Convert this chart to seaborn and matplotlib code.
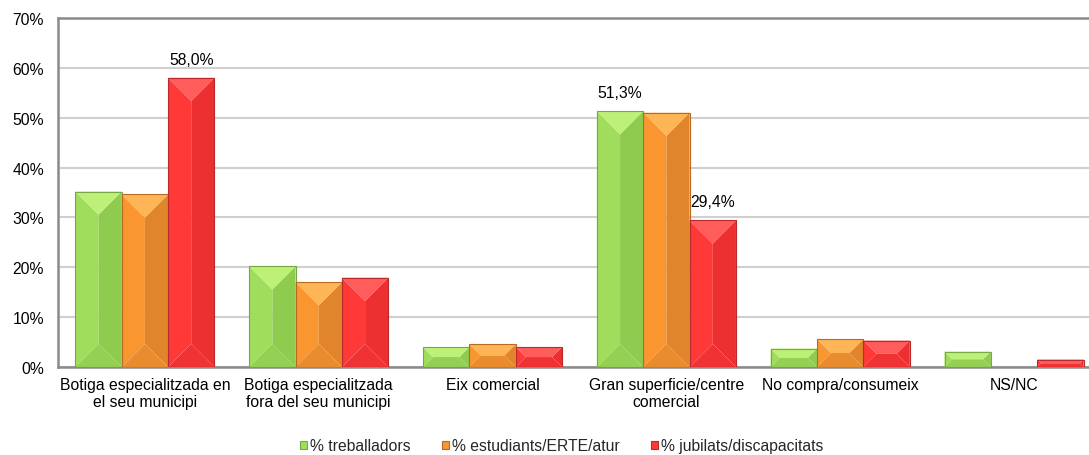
import matplotlib
matplotlib.use("Agg")
import matplotlib.pyplot as plt
from matplotlib.patches import Polygon, Rectangle
from matplotlib.ticker import FuncFormatter
import pandas as pd
import seaborn as sns

# ---- data -------------------------------------------------------------
categories = [
    "Botiga especialitzada en\nel seu municipi",
    "Botiga especialitzada\nfora del seu municipi",
    "Eix comercial",
    "Gran superficie/centre\ncomercial",
    "No compra/consumeix",
    "NS/NC",
]
series_names = ["% treballadors", "% estudiants/ERTE/atur", "% jubilats/discapacitats"]
treballadors = [35.2, 20.2, 4.0, 51.3, 3.7, 3.1]
estudiants = [34.6, 17.0, 4.6, 51.0, 5.6, 0.0]
jubilats = [58.0, 17.9, 4.0, 29.4, 5.3, 1.5]
y_ticks = [0, 10, 20, 30, 40, 50, 60, 70]

# bars that carry a value label: (series index, category index)
labelled_bars = [(2, 0), (0, 3), (2, 3)]

# ---- styling ----------------------------------------------------------
# face colours for the bevelled bars: base/left, top, right, bottom, outline
bevel_colors = [
    dict(left="#a0dd5c", top="#bcf076", right="#8fcb4f", bottom="#94d053", edge="#78a845"),
    dict(left="#f9962f", top="#fdb556", right="#e0852b", bottom="#e98c2d", edge="#b96a22"),
    dict(left="#ff3838", top="#ff5c5c", right="#ec2f31", bottom="#f03234", edge="#b92a2a"),
]

sns.set_theme(style="white")
plt.rcParams["font.family"] = ["Liberation Sans", "DejaVu Sans"]
FS = 11.3

df = pd.DataFrame({
    "categoria": categories * 3,
    "serie": [s for s in series_names for _ in categories],
    "valor": treballadors + estudiants + jubilats,
})

W, H = 1089, 456
fig = plt.figure(figsize=(W / 100, H / 100), dpi=100)
left_px, right_px, top_px, bottom_px = 58, 1101, 19, 368
ax = fig.add_axes([left_px / W, 1 - bottom_px / H,
                   (right_px - left_px) / W, (bottom_px - top_px) / H])

sns.barplot(
    data=df, x="categoria", y="valor", hue="serie",
    order=categories, hue_order=series_names,
    palette=[c["left"] for c in bevel_colors],
    width=0.8, gap=0, saturation=1, legend=False, ax=ax,
)

ax.set_xlim(-0.5, len(categories) - 0.5)
ax.set_ylim(0, 70)
ax.set_yticks(y_ticks)
ax.yaxis.set_major_formatter(FuncFormatter(lambda v, _: f"{v:.0f}%"))
ax.set_xlabel("")
ax.set_ylabel("")
ax.tick_params(axis="both", length=0, labelsize=FS, colors="#000000")
ax.tick_params(axis="y", pad=10)
ax.tick_params(axis="x", pad=7)
for lab in ax.get_xticklabels():
    lab.set_multialignment("center")

ax.grid(axis="y", color="#d0d0d0", linewidth=1.5, zorder=0)
ax.set_axisbelow(True)
for side in ["left", "top", "bottom"]:
    ax.spines[side].set_visible(True)
    ax.spines[side].set_color("#8a8a8a")
    ax.spines[side].set_linewidth(1.8)
ax.spines["right"].set_visible(False)

# ---- bevel effect on every bar ---------------------------------------
px_x = (right_px - left_px) / (ax.get_xlim()[1] - ax.get_xlim()[0])
px_y = (bottom_px - top_px) / (ax.get_ylim()[1] - ax.get_ylim()[0])

for s_idx, container in enumerate(ax.containers):
    cols = bevel_colors[s_idx]
    for bar in container:
        x0 = bar.get_x()
        w = bar.get_width()
        h = bar.get_height()
        if h <= 0:
            bar.set_visible(False)
            continue
        x1 = x0 + w
        y0, y1 = 0.0, h
        b = min(w * px_x, h * px_y) / 2.0
        dx, dy = b / px_x, b / px_y
        faces = [
            ([(x0, y0), (x0, y1), (x0 + dx, y1 - dy), (x0 + dx, y0 + dy)], cols["left"]),
            ([(x1 - dx, y0 + dy), (x1 - dx, y1 - dy), (x1, y1), (x1, y0)], cols["right"]),
            ([(x0 + dx, y0 + dy), (x0 + dx, y1 - dy), (x1 - dx, y1 - dy), (x1 - dx, y0 + dy)], cols["left"]),
            ([(x0, y1), (x1, y1), (x1 - dx, y1 - dy), (x0 + dx, y1 - dy)], cols["top"]),
            ([(x0, y0), (x1, y0), (x1 - dx, y0 + dy), (x0 + dx, y0 + dy)], cols["bottom"]),
        ]
        for pts, fc in faces:
            ax.add_patch(Polygon(pts, closed=True, facecolor=fc, edgecolor="none", zorder=3))
        bar.set_facecolor("none")
        bar.set_edgecolor(cols["edge"])
        bar.set_linewidth(0.8)
        bar.set_zorder(4)

# ---- value labels -----------------------------------------------------
for s_idx, c_idx in labelled_bars:
    bar = ax.containers[s_idx][c_idx]
    value = bar.get_height()
    ax.annotate(
        f"{value:.1f}%".replace(".", ","),
        xy=(bar.get_x() + bar.get_width() / 2, value),
        xytext=(0, 8), textcoords="offset points",
        ha="center", va="bottom", fontsize=FS, color="#000000", zorder=5,
    )

# ---- legend: one entry per box, placed along the bottom ---------------
legend_x_px = [300, 442, 651]
for name, cols, lx in zip(series_names, bevel_colors, legend_x_px):
    handle = Rectangle((0, 0), 1, 1, facecolor=cols["left"], edgecolor=cols["edge"], linewidth=0.8)
    fig.legend(
        [handle], [name], loc="center left", bbox_to_anchor=(lx / W, 1 - 447 / H),
        frameon=False, fontsize=FS, handlelength=0.45, handleheight=0.45,
        handletextpad=0.2, borderaxespad=0, borderpad=0,
    )

fig.savefig("out.png", dpi=100)
